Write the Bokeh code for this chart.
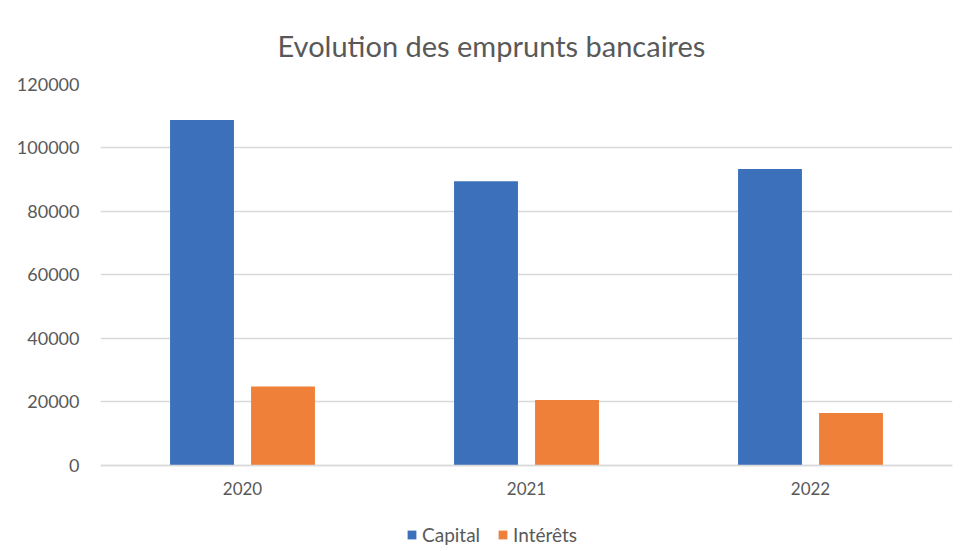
from bokeh.plotting import figure
from bokeh.models import (FactorRange, Range1d, FixedTicker, BasicTickFormatter,
                          Legend, LegendItem, ColumnDataSource)
from bokeh.transform import dodge
from bokeh.embed import file_html
from bokeh.resources import INLINE

years = ["2020", "2021", "2022"]
capital = [108800, 89500, 93400]
interets = [24900, 20600, 16500]
y_ticks = [0, 20000, 40000, 60000, 80000, 100000, 120000]
series_names = ["Capital", "Intérêts"]

BLUE = "#3c70ba"
ORANGE = "#ef8039"
TEXT = "#595959"
GRID = "#d9d9d9"
FONT = "Lato"

src = ColumnDataSource(dict(year=years, capital=capital, interets=interets))

# the frame runs down to the bottom edge so that the legend can sit under the axis labels
p = figure(width=961, height=551, x_range=FactorRange(*years, range_padding=0),
           y_range=Range1d(-27100, 120000), output_backend="svg", toolbar_location=None,
           min_border_left=100, min_border_right=9, min_border_top=84, min_border_bottom=0,
           title="Evolution des emprunts bancaires")

r1 = p.vbar(x=dodge("year", -0.1426, range=p.x_range), top="capital", width=0.225,
            source=src, fill_color=BLUE, line_color=None)
r2 = p.vbar(x=dodge("year", 0.1426, range=p.x_range), top="interets", width=0.225,
            source=src, fill_color=ORANGE, line_color=None)

p.title.text_font = FONT
p.title.text_font_size = "29px"
p.title.text_font_style = "normal"
p.title.text_color = TEXT
p.title.align = "left"
p.title.offset = 177
p.title.standoff = 44

p.background_fill_color = "white"
p.border_fill_color = "white"
p.outline_line_color = None

p.xgrid.grid_line_color = None
p.ygrid.grid_line_color = GRID
p.ygrid.grid_line_width = 1.5

p.yaxis.ticker = FixedTicker(ticks=y_ticks)
p.yaxis.formatter = BasicTickFormatter(use_scientific=False)
p.yaxis.axis_line_color = None
p.yaxis.major_tick_line_color = None
p.yaxis.minor_tick_line_color = None
p.yaxis.major_tick_out = 0
p.yaxis.major_tick_in = 0
p.yaxis.major_label_standoff = 21
p.yaxis.major_label_text_font = FONT
p.yaxis.major_label_text_font_size = "18px"
p.yaxis.major_label_text_color = TEXT

p.xaxis.fixed_location = 0
p.xaxis.axis_line_color = GRID
p.xaxis.axis_line_width = 1.5
p.xaxis.major_tick_line_color = None
p.xaxis.minor_tick_line_color = None
p.xaxis.major_tick_out = 0
p.xaxis.major_tick_in = 0
p.xaxis.major_label_standoff = 17
p.xaxis.major_label_text_font = FONT
p.xaxis.major_label_text_font_size = "17px"
p.xaxis.major_label_text_color = TEXT

legend = Legend(items=[LegendItem(label=series_names[0], renderers=[r1]),
                       LegendItem(label=series_names[1], renderers=[r2])],
                orientation="horizontal", location=(306, 5),
                glyph_width=11, glyph_height=11, label_standoff=5, spacing=17,
                label_text_font=FONT, label_text_font_size="19px", label_text_color=TEXT,
                border_line_color=None, background_fill_alpha=0, padding=4, margin=0)
p.add_layout(legend, "center")

open("out.html", "w").write(file_html(p, INLINE))
